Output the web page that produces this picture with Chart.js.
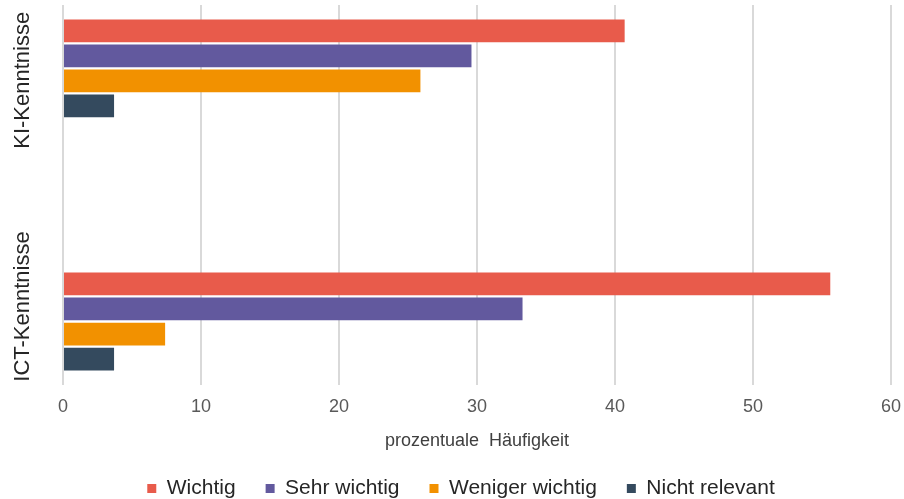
<!DOCTYPE html>
<html>
<head>
<meta charset="utf-8">
<script src="https://cdn.jsdelivr.net/npm/chart.js@4"></script>
<style>
  html, body { margin: 0; padding: 0; background: #fff; }
  #wrap { width: 904px; height: 499px; }
</style>
</head>
<body>
<div id="wrap"><canvas id="myChart"></canvas></div>
<script>
// Antworten je Kategorie (Prozent, n = 27)
var categories = ['KI-Kenntnisse', 'ICT-Kenntnisse'];
var wichtig = [40.7, 55.6];
var sehrWichtig = [29.6, 33.3];
var wenigerWichtig = [25.9, 7.4];
var nichtRelevant = [3.7, 3.7];
var xTicks = [0, 10, 20, 30, 40, 50, 60];

var FONT = "'Liberation Sans', Arial, sans-serif";

// leere Zeile zwischen den beiden Kategorien
function withGap(arr) { return [arr[0], null, arr[1]]; }
var labels = [categories[0], '', categories[1]];

// rotated category labels on the left
var sideLabels = {
    id: 'sideLabels',
    afterDraw: function (chart) {
        var ctx = chart.ctx;
        var y = chart.scales.y;
        var mid = (chart.chartArea.top + chart.chartArea.bottom) / 2;
        ctx.save();
        ctx.font = '22px ' + FONT;
        ctx.fillStyle = '#262626';
        ctx.textAlign = 'center';
        ctx.textBaseline = 'middle';
        [0, 2].forEach(function (idx) {
            var py = y.getPixelForValue(idx);
            py += py < mid ? 12 : -15;
            ctx.save();
            ctx.translate(23, py);
            ctx.rotate(-Math.PI / 2);
            ctx.fillText(labels[idx], 0, 0);
            ctx.restore();
        });
        ctx.restore();
    }
};

document.addEventListener("DOMContentLoaded", function () {

    var ctx = document.getElementById('myChart').getContext('2d');
    var chart = new Chart(ctx, {
        type: 'bar',
        data: {
            labels: labels,
            datasets: [{
                label: 'Wichtig',
                backgroundColor: '#E85B4B',
                data: withGap(wichtig)
            }, {
                label: 'Sehr wichtig',
                backgroundColor: '#62599E',
                data: withGap(sehrWichtig)
            }, {
                label: 'Weniger wichtig',
                backgroundColor: '#F29100',
                data: withGap(wenigerWichtig)
            }, {
                label: 'Nicht relevant',
                backgroundColor: '#344A5E',
                data: withGap(nichtRelevant)
            }]
        },
        options: {
            indexAxis: 'y',
            responsive: true,
            maintainAspectRatio: false,
            animation: false,
            categoryPercentage: 0.79,
            barPercentage: 0.91,
            layout: { padding: { left: 6, right: -12, top: 5, bottom: -10 } },
            scales: {
                x: {
                    min: 0,
                    max: 60,
                    afterBuildTicks: function (axis) {
                        axis.ticks = xTicks.map(function (v) { return { value: v }; });
                    },
                    // invisible tick marks keep the labels off the plot
                    grid: { color: '#D9D9D9', lineWidth: 2, drawTicks: true, tickLength: 8, tickColor: 'rgba(0,0,0,0)' },
                    border: { display: false },
                    ticks: {
                        color: '#595959',
                        font: { family: FONT, size: 18 },
                        padding: 3,
                        maxRotation: 0
                    },
                    title: {
                        display: true,
                        text: 'prozentuale  Häufigkeit',
                        color: '#404040',
                        font: { family: FONT, size: 18 },
                        padding: { top: 10, bottom: -4 }
                    }
                },
                y: {
                    // room for the rotated labels
                    ticks: { display: false },
                    grid: { display: false },
                    border: { display: false },
                    afterFit: function (axis) { axis.width = 57; }
                }
            },
            plugins: {
                tooltip: { enabled: false },
                legend: {
                    position: 'bottom',
                    labels: {
                        boxWidth: 9,
                        boxHeight: 9,
                        padding: 30,
                        color: '#262626',
                        font: { family: FONT, size: 21 }
                    }
                }
            }
        },
        plugins: [sideLabels]
    });
});
</script>
</body>
</html>
